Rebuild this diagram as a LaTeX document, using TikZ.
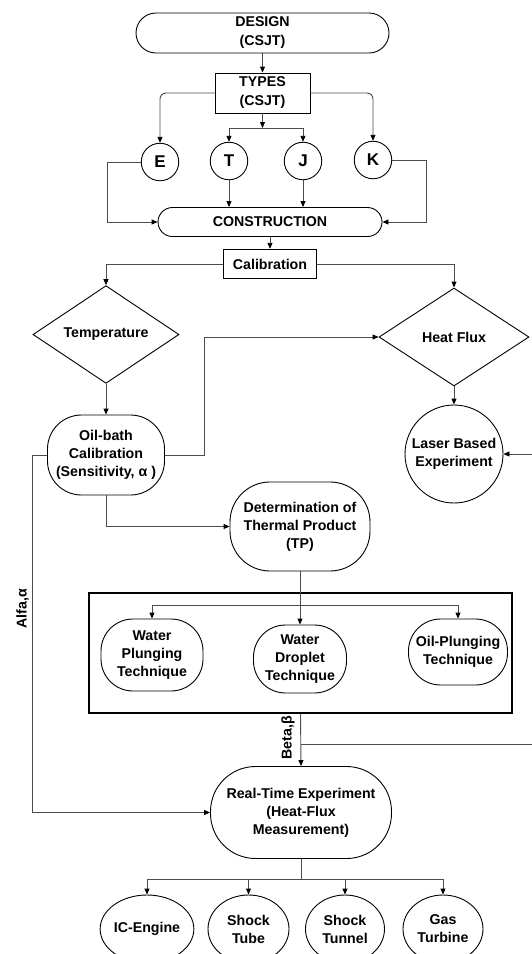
\documentclass[tikz,border=0pt]{standalone}
\usepackage{fontspec}
\setmainfont{Liberation Sans}
\usetikzlibrary{shapes.geometric,arrows.meta,calc}
\begin{document}
\begin{tikzpicture}[x=1pt,y=-1pt,
  every node/.style={font=\fontsize{14.2}{18}\selectfont\bfseries, align=center, inner sep=0pt},
  box/.style={draw=black, line width=0.9pt, fill=white},
  stad/.style={box, rectangle, rounded corners=#1},
  circ/.style={box, circle},
  letter/.style={circ, minimum size=37.5, font=\fontsize{17}{18}\selectfont\bfseries},
  dia/.style={box, diamond},
  ell/.style={box, ellipse, minimum width=79, minimum height=68},
  conn/.style={draw=black!70, line width=0.9pt, -{Triangle[length=6pt,width=5pt,color=black]}},
  plain/.style={draw=black!70, line width=0.9pt},
]
\path[use as bounding box] (0,0) rectangle (532,954);
\clip (0,0) rectangle (532,954);
\fill[white] (0,0) rectangle (532,954);

% nodes
\node[stad=20, minimum width=253, minimum height=40, font=\fontsize{14.2}{19}\selectfont\bfseries] (design) at (262.5,33) {DESIGN\\(CSJT)};
\node[box, rectangle, minimum width=95, minimum height=40, font=\fontsize{14.2}{19}\selectfont\bfseries] (types) at (262.5,93) {TYPES\\(CSJT)};
\node[letter] (E) at (160,162) {E};
\node[letter] (T) at (229,161) {T};
\node[letter] (J) at (303,161) {J};
\node[letter] (K) at (373,160) {K};
\node[stad=14.5, minimum width=224, minimum height=29] (constr) at (270,222) {CONSTRUCTION};
\node[box, rectangle, minimum width=93, minimum height=29.5] (calib) at (270,264) {Calibration};
\node[dia, minimum width=146, minimum height=95] (temp) at (106,334.5) {Temperature};
\node[dia, minimum width=150, minimum height=98] (heat) at (454,337) {Heat Flux};
\node[stad=34, minimum width=117, minimum height=80] (oil) at (106,455) {Oil-bath\\Calibration\\(Sensitivity, α )};
\node[circ, minimum size=98] (laser) at (454,454) {Laser Based\\Experiment};
\node[stad=40, minimum width=140, minimum height=89] (det) at (300,526.5) {Determination of\\Thermal Product\\(TP)};
\node[draw=black, line width=1.6pt, minimum width=423, minimum height=120] (bigbox) at (300.5,653) {};
\node[stad=32, minimum width=102, minimum height=72] (wp) at (152,655) {Water\\Plunging\\Technique};
\node[stad=32, minimum width=93, minimum height=68] (wd) at (300,659) {Water\\Droplet\\Technique};
\node[stad=32, minimum width=99, minimum height=66] (op) at (458,652) {Oil-Plunging\\Technique};
\node[stad=45, minimum width=181, minimum height=92] (rt) at (301,812.5) {Real-Time Experiment\\(Heat-Flux\\Measurement)};
\node[ell] (ic) at (147,929) {IC-Engine};
\node[ell, minimum width=81] (st) at (248.5,929) {Shock\\Tube};
\node[ell] (stn) at (345,929) {Shock\\Tunnel};
\node[ell, minimum width=80] (gt) at (443,929) {Gas\\Turbine};
\node[rotate=90] (alfa) at (22.5,609) {Alfa,α};
\node[rotate=90] (beta) at (288,738) {Beta,β};

% junctions
\coordinate (tj) at (262.5,128);
\coordinate (jb) at (300,605.5);
\coordinate (jbeta) at (301,744);
\coordinate (far) at (545,744);
\coordinate (jr) at (301,879);

% connectors
\draw[conn] (design) -- (types);
\draw[conn, rounded corners=6] (types.west) -| (E.north);
\draw[conn, rounded corners=6] (types.east) -| (K.north);
\draw[conn] (types.south) -- (tj);
\draw[conn] (tj) -| (T.north);
\draw[conn] (tj) -| (J.north);
\draw[conn] (T.south) -- (T.south |- constr.north);
\draw[conn] (J.south) -- (J.south |- constr.north);
\draw[conn] (E.west) -- ++(-33,0) |- (constr.west);
\draw[conn] (K.east) -- ++(34,0) |- (constr.east);
\draw[conn] (constr) -- (calib);
\draw[conn] (calib.west) -| (temp.north);
\draw[conn] (calib.east) -| (heat.north);
\draw[conn] (temp) -- (oil);
\draw[conn] (heat) -- (laser);
\draw[conn] (oil.east) -- ++(39,0) |- (heat.west);
\draw[conn] (oil.west) -- ++(-14.5,0) |- (rt.west);
\draw[conn] (oil.south) |- (det.west);
\draw[conn] (det.south) -- (wd.north);
\draw[conn] (jb) -| (wp.north);
\draw[conn] (jb) -| (op.north);
\draw[conn] (bigbox.south) -- (rt.north);
\draw[conn] (jbeta) -- (far) |- (laser.east);
\draw[plain] (rt.south) -- (jr);
\draw[conn] (jr) -| (ic.north);
\draw[conn] (jr) -| (st.north);
\draw[conn] (jr) -| (stn.north);
\draw[conn] (jr) -| (gt.north);
\end{tikzpicture}
\end{document}
